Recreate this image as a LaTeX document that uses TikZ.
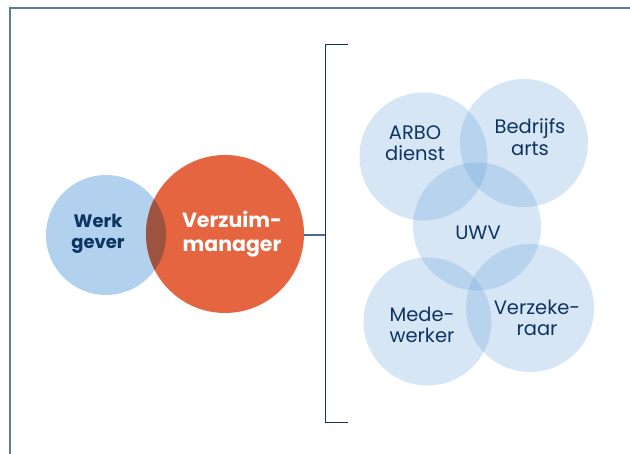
\documentclass[tikz,border=0pt]{standalone}
\usepackage{fontspec}
\setmainfont{Poppins}
\usetikzlibrary{positioning}

\definecolor{navy}{HTML}{0E3461}
\definecolor{framec}{HTML}{5B7A9E}
\definecolor{orangec}{HTML}{E56541}
\definecolor{werkc}{HTML}{B1D1EF}
\definecolor{mixc}{HTML}{9E5240}
\definecolor{partnerc}{HTML}{5497D5}

\begin{document}
\begin{tikzpicture}[
    x=1pt, y=1pt,
    align=center,
    base/.style={circle, inner sep=0pt},
    werk/.style={base, minimum size=120pt, fill=werkc},
    manager/.style={base, minimum size=158pt, fill=orangec},
    partner/.style={base, minimum size=128pt, fill=partnerc, fill opacity=0.24},
    lbl/.style={font=\fontsize{19.5}{21.5}\selectfont, text=navy},
    blbl/.style={font=\fontsize{18}{21}\selectfont\bfseries, text=navy},
    wlbl/.style={font=\fontsize{20.5}{24}\selectfont\bfseries, text=white},
    rim/.style={framec, line width=1.4pt},
    brace/.style={navy, line width=1pt},
    link/.style={framec!80!navy, line width=1.2pt}
  ]

  \useasboundingbox (0,0) rectangle (630,454);

  % outer frame, only top and left show
  \draw[rim] (10,0) -- (10,446) -- (631,446);

  % employer and absence manager
  \node (werk)     [werk]    at (106,219) {};
  \node (manager)  [manager] at (225,220) {};
  \begin{scope}
    \clip (106,219) circle (60pt);
    \fill[mixc] (225,220) circle (79pt);
  \end{scope}

  \node (werklbl)  [blbl]    at (98,220.5)  {Werk\\gever};
  \node (mgrlbl)   [wlbl]    at (232,220)   {Verzuim-\\manager};

  % partner circles
  \node (arbo)     [partner] at (423.5,297.5) {};
  \node (bedrijf)  [partner] at (524,311)     {};
  \node (uwv)      [partner] at (477,227.5)   {};
  \node (mede)     [partner] at (427.5,132.5) {};
  \node (verzeker) [partner] at (530,146)     {};

  \node [lbl] at (415,311)   {ARBO\\dienst};
  \node [lbl] at (530,317)   {Bedrijfs\\arts};
  \node [lbl] at (478,221)   {UWV};
  \node [lbl] at (422,129)   {Mede-\\werker};
  \node [lbl] at (537,136)   {Verzeke-\\raar};

  % bracket
  \coordinate (btop)  at (325,409);
  \coordinate (bbot)  at (325,31);
  \coordinate (bmid)  at (325,219);
  \draw[brace] ([xshift=23pt]btop) -- (btop) -- (bbot) -- ([xshift=23pt]bbot);
  \draw[link]  (manager.east |- bmid) -- (bmid);
\end{tikzpicture}
\end{document}
